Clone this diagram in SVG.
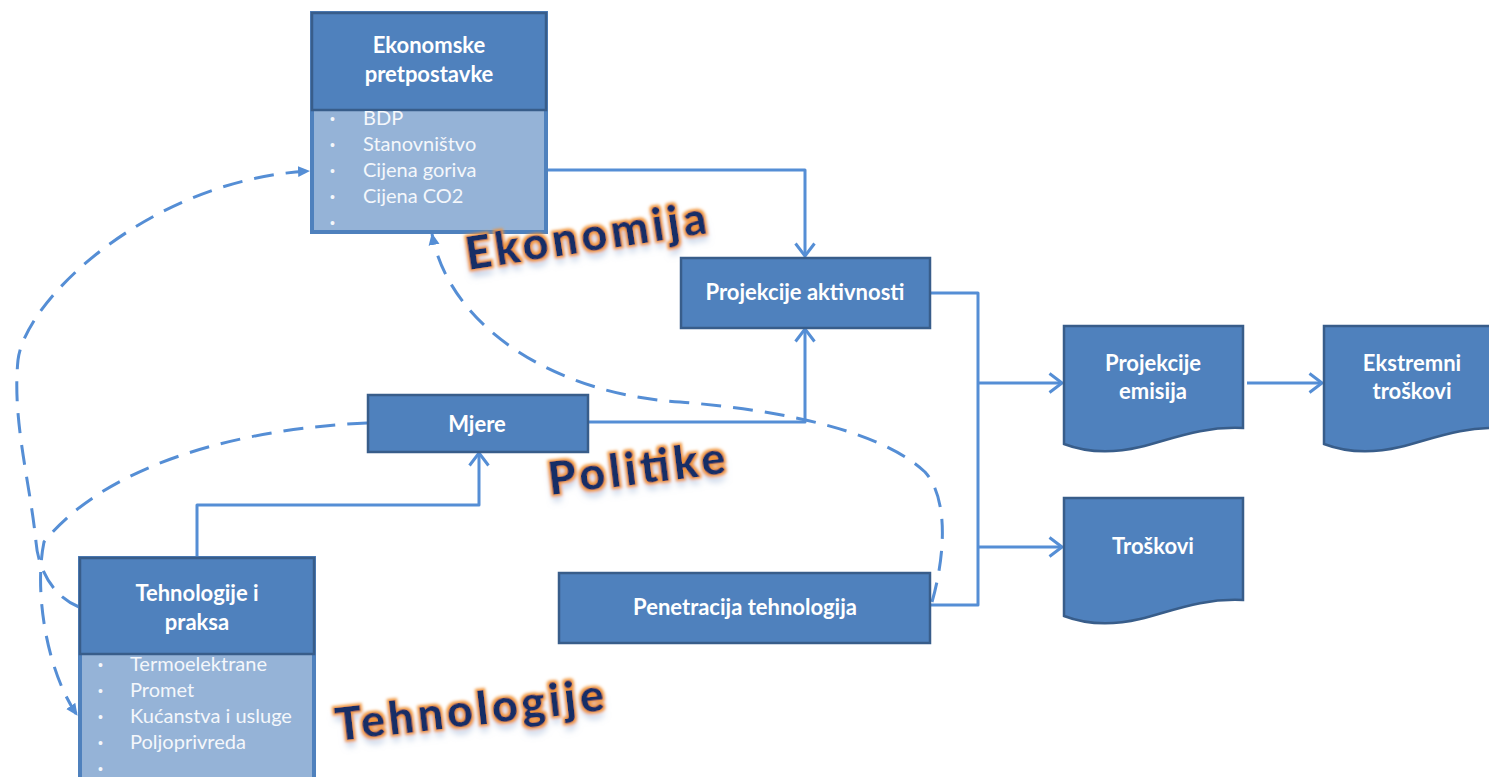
<svg xmlns="http://www.w3.org/2000/svg" width="1489" height="777" viewBox="0 0 1489 777">
  <defs>
    <style>
      .box { fill: #4F81BD; stroke: #385D8A; stroke-width: 2.5; }
      .list { fill: #95B3D7; stroke: #4F81BD; stroke-width: 4; }
      .head { font-family: Lato, "Liberation Sans", sans-serif; font-weight: bold; font-size: 22px; fill: #FFFFFF; text-anchor: middle; }
      .item { font-family: Lato, "Liberation Sans", sans-serif; font-size: 20px; fill: #F4F7FB; }
      .dot { font-family: "Liberation Sans", sans-serif; font-size: 14px; fill: #F4F7FB; }
      .link { fill: none; stroke: #558ED5; stroke-width: 3; stroke-linejoin: round; }
      .dash { fill: none; stroke: #558ED5; stroke-width: 3; stroke-dasharray: 20 12; stroke-linecap: butt; }
      .art { font-family: Lato, "Liberation Sans", sans-serif; font-weight: 900; font-size: 45px; fill: #142F66; filter: url(#glow); }
    </style>
    <marker id="open" viewBox="0 0 16 22" refX="14" refY="11" markerWidth="16" markerHeight="22" markerUnits="userSpaceOnUse" orient="auto">
      <path d="M1.5,1.5 L14,11 L1.5,20.5" fill="none" stroke="#558ED5" stroke-width="3" stroke-linejoin="round"/>
    </marker>
    <marker id="tri" viewBox="0 0 12 12" refX="11" refY="6" markerWidth="12" markerHeight="12" markerUnits="userSpaceOnUse" orient="auto">
      <path d="M0,0.5 L12,6 L0,11.5 Z" fill="#558ED5"/>
    </marker>
    <filter id="glow" x="-15%" y="-40%" width="130%" height="200%">
      <feMorphology in="SourceAlpha" operator="dilate" radius="1.8" result="thick"/>
      <feGaussianBlur in="thick" stdDeviation="1.5" result="soft"/>
      <feFlood flood-color="#F0953C"/>
      <feComposite in2="soft" operator="in" result="orange"/>
      <feGaussianBlur in="SourceAlpha" stdDeviation="3.5" result="blur"/>
      <feOffset in="blur" dx="0" dy="7" result="drop"/>
      <feFlood flood-color="#7F9CC8" flood-opacity="0.55"/>
      <feComposite in2="drop" operator="in" result="shadow"/>
      <feMerge>
        <feMergeNode in="shadow"/>
        <feMergeNode in="orange"/>
        <feMergeNode in="SourceGraphic"/>
      </feMerge>
    </filter>
  </defs>

  <rect width="1489" height="777" fill="#FFFFFF"/>

  <!-- connectors -->
  <g id="connectors">
    <path class="link" d="M547,170 H805 V256" marker-end="url(#open)"/>
    <path class="link" d="M588,422 H805 V329" marker-end="url(#open)"/>
    <path class="link" d="M197,557 V505 H479 V453" marker-end="url(#open)"/>
    <path class="link" d="M930,293 H978 V605 H930"/>
    <path class="link" d="M978,383 H1062" marker-end="url(#open)"/>
    <path class="link" d="M978,547 H1062" marker-end="url(#open)"/>
    <path class="link" d="M1247,383 H1322" marker-end="url(#open)"/>
    <!-- feedback loops -->
    <path class="dash" d="M79,607 C52,596 38,568 36,542 C30,482 12,420 18,360 C25,300 150,180 309,171" marker-end="url(#tri)"/>
    <path class="dash" d="M367,423 C250,428 110,460 44,542 C34,590 46,670 77,715" marker-end="url(#tri)"/>
    <path class="dash" d="M932,602 C944,560 950,500 925,472 C880,430 780,410 680,402 C560,395 450,330 432,234" marker-end="url(#tri)"/>
  </g>

  <!-- economic assumptions -->
  <g id="ekonomske">
    <rect class="list" x="312" y="13" width="234" height="219"/>
    <rect class="box" x="312" y="13" width="234" height="97"/>
    <text class="head" x="429" y="53">Ekonomske</text>
    <text class="head" x="429" y="82">pretpostavke</text>
    <text class="dot" x="330" y="124">•</text><text class="item" x="363" y="125">BDP</text>
    <text class="dot" x="330" y="150">•</text><text class="item" x="363" y="151">Stanovništvo</text>
    <text class="dot" x="330" y="176">•</text><text class="item" x="363" y="177">Cijena goriva</text>
    <text class="dot" x="330" y="202">•</text><text class="item" x="363" y="203">Cijena CO2</text>
    <text class="dot" x="330" y="228">•</text>
  </g>

  <g id="projekcije-aktivnosti">
    <rect class="box" x="681" y="258" width="249" height="70"/>
    <text class="head" x="805" y="300">Projekcije aktivnosti</text>
  </g>

  <g id="mjere">
    <rect class="box" x="368" y="395" width="220" height="57"/>
    <text class="head" x="477" y="432">Mjere</text>
  </g>

  <g id="tehnologije">
    <rect class="list" x="80" y="558" width="234" height="230"/>
    <text class="item" x="130" y="671">Termoelektrane</text>
    <rect class="box" x="80" y="558" width="234" height="96"/>
    <text class="head" x="197" y="601">Tehnologije i</text>
    <text class="head" x="197" y="630">praksa</text>
    <text class="dot" x="98" y="670">•</text>
    <text class="dot" x="98" y="696">•</text><text class="item" x="130" y="697">Promet</text>
    <text class="dot" x="98" y="722">•</text><text class="item" x="130" y="723">Kućanstva i usluge</text>
    <text class="dot" x="98" y="748">•</text><text class="item" x="130" y="749">Poljoprivreda</text>
    <text class="dot" x="98" y="774">•</text>
  </g>

  <g id="penetracija">
    <rect class="box" x="559" y="573" width="371" height="70"/>
    <text class="head" x="745" y="615">Penetracija tehnologija</text>
  </g>

  <g id="projekcije-emisija">
    <path class="box" d="M1064,326 H1243 V428 C1200,426 1170,440 1140,447 C1110,454 1085,452 1064,444 Z"/>
    <text class="head" x="1153" y="371">Projekcije</text>
    <text class="head" x="1153" y="399">emisija</text>
  </g>

  <g id="ekstremni">
    <path class="box" d="M1324,326 H1503 V428 C1460,426 1430,440 1400,447 C1370,454 1345,452 1324,444 Z"/>
    <text class="head" x="1412" y="371">Ekstremni</text>
    <text class="head" x="1412" y="399">troškovi</text>
  </g>

  <g id="troskovi">
    <path class="box" d="M1064,498 H1243 V600 C1200,598 1170,612 1140,619 C1110,626 1085,624 1064,616 Z"/>
    <text class="head" x="1153" y="554">Troškovi</text>
  </g>

  <!-- area labels -->
  <g id="labels">
    <text class="art" x="468" y="270" textLength="243" transform="rotate(-8.7 468 270)">Ekonomija</text>
    <text class="art" x="550" y="495" textLength="178" transform="rotate(-7 550 495)">Politike</text>
    <text class="art" x="337" y="741" textLength="270" transform="rotate(-6.5 337 741)">Tehnologije</text>
  </g>
</svg>
